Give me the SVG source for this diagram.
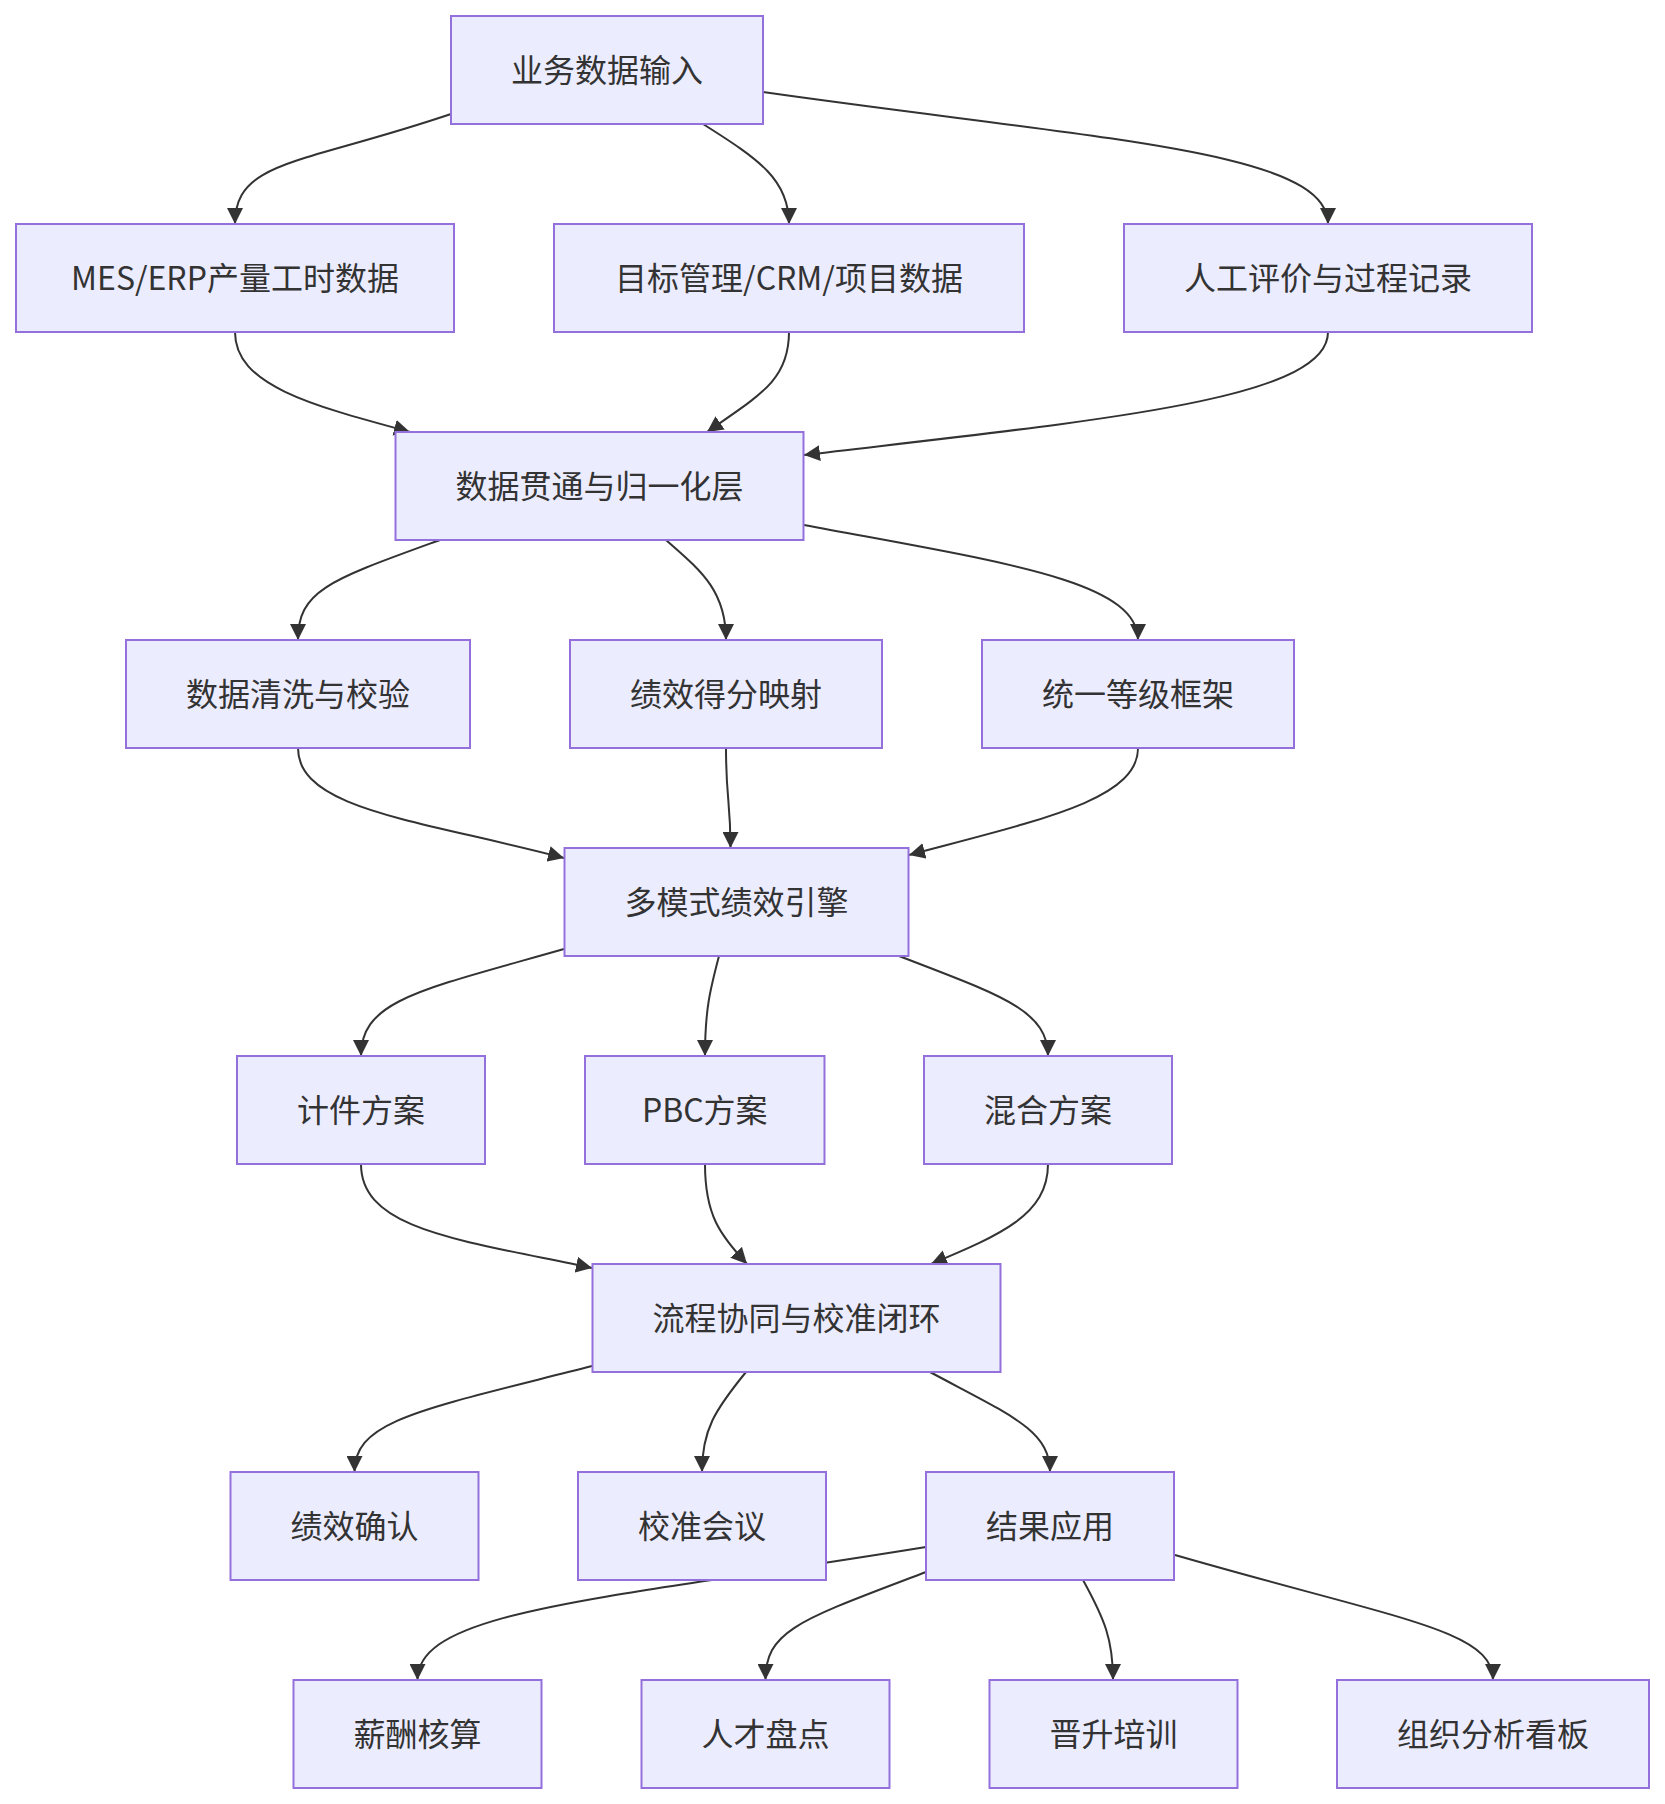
<svg xmlns="http://www.w3.org/2000/svg" width="1665" height="1804" viewBox="0 0 1665 1804">
<style>
.node rect{fill:#ECECFF;stroke:#9370DB;stroke-width:2}
.node text{font-family:"Noto Sans CJK SC","Noto Sans",sans-serif;font-size:32px;fill:#333333;text-anchor:middle;dominant-baseline:central}
.edges path{fill:none;stroke:#333333;stroke-width:2;marker-end:url(#arrow)}
</style>
<defs>
<marker id="arrow" viewBox="0 0 10 10" refX="10" refY="5" markerUnits="userSpaceOnUse" markerWidth="16" markerHeight="16" orient="auto">
<path d="M0,0 L10,5 L0,10 z" fill="#333333"/>
</marker>
</defs>
<rect width="1665" height="1804" fill="#ffffff"/>
<g class="edges" id="connectors">
<path d="M451,114 C300,165 235,160 235,224"/>
<path d="M703,124 C760,160 789,180 789,224"/>
<path d="M763,92 C1100,140 1328,150 1328,224"/>
<path d="M235,332 C235,385 310,405 410,432"/>
<path d="M789,332 C789,380 760,395 707,432"/>
<path d="M1328,332 C1328,400 1100,420 804,455"/>
<path d="M440,540 C330,580 298,590 298,640"/>
<path d="M666,540 C700,570 726,590 726,640"/>
<path d="M804,525 C1000,562 1138,580 1138,640"/>
<path d="M298,748 C298,810 420,820 564,858"/>
<path d="M726,748 C726,800 730.5,800 730.5,848"/>
<path d="M1138,748 C1138,800 1040,820 909,855"/>
<path d="M564,949 C420,990 361,1000 361,1056"/>
<path d="M719,956 C710,990 705,1010 705,1056"/>
<path d="M899,956 C1000,995 1048,1010 1048,1056"/>
<path d="M361,1164 C361,1230 460,1240 592,1268"/>
<path d="M705,1164 C705,1215 720,1235 747,1264"/>
<path d="M1048,1164 C1048,1215 1000,1235 931,1264"/>
<path d="M592,1366 C420,1410 354.5,1420 354.5,1472"/>
<path d="M746,1372 C715,1410 702,1430 702,1472"/>
<path d="M930,1372 C1010,1415 1050,1430 1050,1472"/>
<path d="M926,1547 C600,1600 417.5,1610 417.5,1680"/>
<path d="M926,1572 C800,1620 765.5,1630 765.5,1680"/>
<path d="M1083,1580 C1105,1620 1113,1640 1113,1680"/>
<path d="M1175,1555 C1400,1620 1493,1630 1493,1680"/>
</g>
<g class="node" id="n_input"><rect x="451" y="16" width="312" height="108"/><text x="607" y="68">业务数据输入</text></g>
<g class="node" id="n_mes"><rect x="16" y="224" width="438" height="108"/><text x="235" y="276">MES/ERP产量工时数据</text></g>
<g class="node" id="n_target"><rect x="554" y="224" width="470" height="108"/><text x="789" y="276">目标管理/CRM/项目数据</text></g>
<g class="node" id="n_manual"><rect x="1124" y="224" width="408" height="108"/><text x="1328" y="276">人工评价与过程记录</text></g>
<g class="node" id="n_layer"><rect x="395.5" y="432" width="408" height="108"/><text x="599.5" y="484">数据贯通与归一化层</text></g>
<g class="node" id="n_clean"><rect x="126" y="640" width="344" height="108"/><text x="298" y="692">数据清洗与校验</text></g>
<g class="node" id="n_map"><rect x="570" y="640" width="312" height="108"/><text x="726" y="692">绩效得分映射</text></g>
<g class="node" id="n_grade"><rect x="982" y="640" width="312" height="108"/><text x="1138" y="692">统一等级框架</text></g>
<g class="node" id="n_engine"><rect x="564.5" y="848" width="344" height="108"/><text x="736.5" y="900">多模式绩效引擎</text></g>
<g class="node" id="n_piece"><rect x="237" y="1056" width="248" height="108"/><text x="361" y="1108">计件方案</text></g>
<g class="node" id="n_pbc"><rect x="585" y="1056" width="239.5" height="108"/><text x="704.75" y="1108">PBC方案</text></g>
<g class="node" id="n_mix"><rect x="924" y="1056" width="248" height="108"/><text x="1048" y="1108">混合方案</text></g>
<g class="node" id="n_flow"><rect x="592.5" y="1264" width="408" height="108"/><text x="796.5" y="1316">流程协同与校准闭环</text></g>
<g class="node" id="n_confirm"><rect x="230.5" y="1472" width="248" height="108"/><text x="354.5" y="1524">绩效确认</text></g>
<g class="node" id="n_meeting"><rect x="578" y="1472" width="248" height="108"/><text x="702" y="1524">校准会议</text></g>
<g class="node" id="n_apply"><rect x="926" y="1472" width="248" height="108"/><text x="1050" y="1524">结果应用</text></g>
<g class="node" id="n_salary"><rect x="293.5" y="1680" width="248" height="108"/><text x="417.5" y="1732">薪酬核算</text></g>
<g class="node" id="n_talent"><rect x="641.5" y="1680" width="248" height="108"/><text x="765.5" y="1732">人才盘点</text></g>
<g class="node" id="n_promo"><rect x="989.5" y="1680" width="248" height="108"/><text x="1113.5" y="1732">晋升培训</text></g>
<g class="node" id="n_dash"><rect x="1337" y="1680" width="312" height="108"/><text x="1493" y="1732">组织分析看板</text></g>
</svg>
